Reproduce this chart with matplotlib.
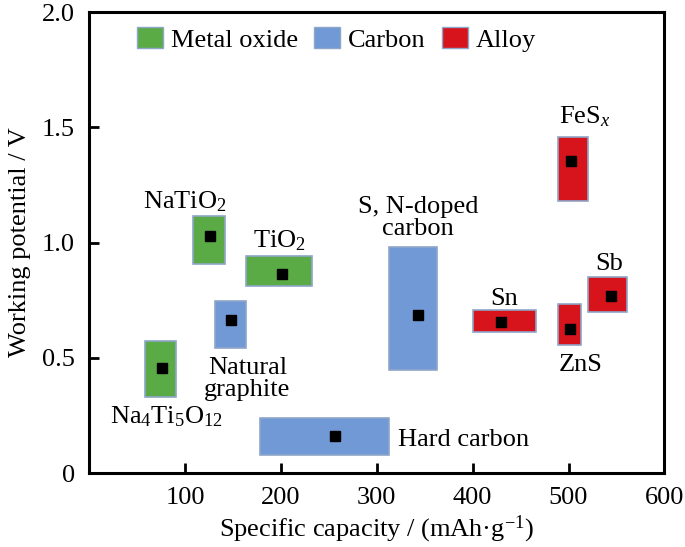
import matplotlib
matplotlib.use("Agg")
import matplotlib.pyplot as plt
from matplotlib.patches import Rectangle, Patch

plt.rcParams['font.family'] = ['Liberation Serif', 'DejaVu Serif']
plt.rcParams['mathtext.fontset'] = 'custom'
plt.rcParams['mathtext.rm'] = 'Liberation Serif'
plt.rcParams['mathtext.it'] = 'Liberation Serif:italic'

# materials: (x_min, x_max, y_min, y_max), centre point, group
names = ['Na4Ti5O12', 'NaTiO2', 'TiO2', 'Natural graphite', 'Hard carbon',
         'S, N-doped carbon', 'Sn', 'FeSx', 'ZnS', 'Sb']
groups = ['oxide', 'oxide', 'oxide', 'carbon', 'carbon',
          'carbon', 'alloy', 'alloy', 'alloy', 'alloy']
x_lo = [58, 108, 164, 131, 178, 313, 400, 489, 489, 520]
x_hi = [91, 142, 233, 164, 313, 363, 466, 520, 513, 561]
y_lo = [0.330, 0.909, 0.811, 0.542, 0.080, 0.448, 0.613, 1.180, 0.554, 0.699]
y_hi = [0.575, 1.116, 0.943, 0.746, 0.239, 0.980, 0.708, 1.460, 0.734, 0.850]
pt_x = [76, 126, 201, 148, 256, 343, 430, 503, 501, 544]
pt_y = [0.458, 1.029, 0.864, 0.663, 0.163, 0.685, 0.655, 1.356, 0.625, 0.769]

labels = [r'Na$_4$Ti$_5$O$_{12}$', r'NaTiO$_2$', r'TiO$_2$', 'Natural\ngraphite',
          'Hard carbon', 'S, N-doped\ncarbon', 'Sn', r'FeS$_x$', 'ZnS', 'Sb']
lab_x = [81, 100, 199, 165, 322, 343, 433, 517, 513, 542]
lab_y = [0.247, 1.177, 1.01, 0.408, 0.145, 1.105, 0.756, 1.548, 0.469, 0.905]
lab_ha = ['center', 'center', 'center', 'center', 'left',
          'center', 'center', 'center', 'center', 'center']

colors = {'oxide': '#5aab46', 'carbon': '#7199d5', 'alloy': '#d7141c'}
legend_names = {'oxide': 'Metal oxide', 'carbon': 'Carbon', 'alloy': 'Alloy'}
edge = '#8ea6c9'

fig = plt.figure(figsize=(6.85, 5.47), dpi=100)
ax = fig.add_axes([0.130, 0.135, 0.840, 0.843])

for i in range(len(names)):
    r = Rectangle((x_lo[i], y_lo[i]), x_hi[i] - x_lo[i], y_hi[i] - y_lo[i],
                  facecolor=colors[groups[i]], edgecolor=edge, linewidth=1.2)
    ax.add_patch(r)
    ax.text(lab_x[i], lab_y[i], labels[i], ha=lab_ha[i], va='center',
            fontsize=19, linespacing=1.0)

ax.plot(pt_x, pt_y, 's', color='black', markersize=6.5, linestyle='none')

handles = [Patch(facecolor=colors[g], edgecolor=edge, label=legend_names[g])
           for g in ['oxide', 'carbon', 'alloy']]
ax.legend(handles=handles, loc='upper center', bbox_to_anchor=(0.43, 1.0),
          ncol=3, frameon=False, fontsize=19, handlelength=1.0,
          handleheight=0.9, handletextpad=0.3, columnspacing=0.6,
          borderaxespad=0.15)

ax.set_xlim(0, 600)
ax.set_ylim(0, 2.0)
ax.set_xticks([100, 200, 300, 400, 500, 600])
ax.set_yticks([0, 0.5, 1.0, 1.5, 2.0])
ax.set_yticklabels(['0', '0.5', '1.0', '1.5', '2.0'])
ax.tick_params(direction='in', length=7, width=2, labelsize=19, pad=10)
for s in ax.spines.values():
    s.set_linewidth(2.2)

ax.set_xlabel('Specific capacity / (mAh·g$^{-1}$)', fontsize=19, labelpad=3)
ax.set_ylabel('Working potential / V', fontsize=19, labelpad=8)

fig.savefig('out.png', dpi=100)
